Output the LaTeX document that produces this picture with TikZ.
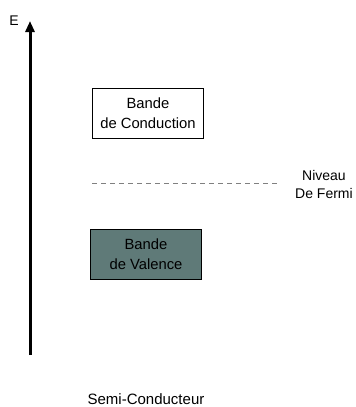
\documentclass[tikz,border=0pt]{standalone}
\usepackage{fontspec}
\setmainfont{Liberation Sans}
\usetikzlibrary{arrows.meta}
\definecolor{valfill}{HTML}{5F7A78}
\begin{document}
\begin{tikzpicture}[x=1pt,y=-1pt,
  band/.style={draw=black,line width=1pt,minimum width=111pt,minimum height=50pt,inner sep=0pt,align=center,font=\fontsize{14.8}{19.5}\selectfont},
  lbl/.style={inner sep=0pt,align=center,font=\fontsize{14}{18}\selectfont}]
\useasboundingbox (0,0) rectangle (356,407);
\coordinate (abot) at (30,355);
\coordinate (atop) at (30,21);
\draw[line width=3pt,-{Triangle[length=11pt,width=9pt]}] (abot) -- (atop);
\node[lbl] (E) at (14,21) {E};
\node[band] (cond) at (148,113) {Bande\\de Conduction};
\node[band,fill=valfill] (val) at (146,254) {Bande\\de Valence};
\coordinate (fa) at (92,183);
\coordinate (fb) at (278,183);
\draw[gray,line width=0.9pt,dash pattern=on 5pt off 4pt] (fa) -- (fb);
\node[lbl] (fermi) at (324,184) {Niveau\\De Fermi};
\node[lbl,font=\fontsize{15}{18}\selectfont] (sc) at (146,399) {Semi-Conducteur};
\end{tikzpicture}
\end{document}
